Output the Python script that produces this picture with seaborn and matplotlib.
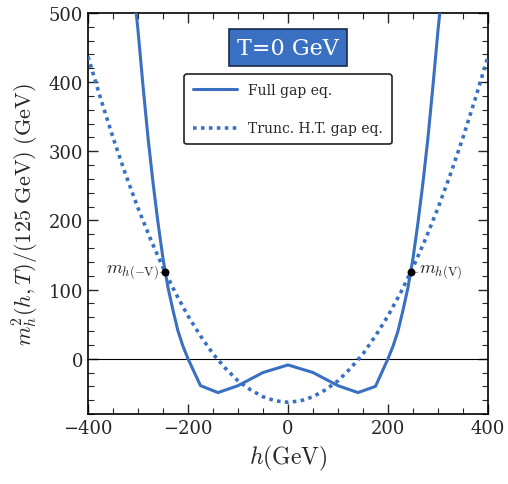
import numpy as np
import pandas as pd
import matplotlib
matplotlib.use('Agg')
import matplotlib.pyplot as plt
import seaborn as sns
from matplotlib.ticker import MultipleLocator

# Full gap equation curve
h_full = [-305, -300, -290, -280, -270, -260, -250, -240, -230, -220, -210, -200,
          -175, -140, -100, -50, 0, 50, 100, 140, 175,
          200, 210, 220, 230, 240, 250, 260, 270, 280, 290, 300, 305]
m2_full = [510, 475, 395, 320, 255, 197, 145, 103, 70, 40, 18, 0,
           -39, -49, -39, -20, -9, -20, -39, -49, -40,
           0, 18, 40, 70, 103, 145, 197, 255, 320, 395, 475, 510]

# Truncated high-T gap equation curve
h_trunc = [-400, -375, -350, -325, -300, -275, -250, -225, -200, -175, -150, -125,
           -100, -75, -50, -25, 0, 25, 50, 75, 100, 125, 150, 175, 200,
           225, 250, 275, 300, 325, 350, 375, 400]
m2_trunc = [437, 377, 320, 267, 218, 173, 132, 95, 62, 33, 7, -14,
            -32, -45, -55, -61, -63, -61, -55, -45, -32, -14, 7, 33, 62,
            95, 132, 173, 218, 267, 320, 377, 437]

# vacuum points m_h(+-V)
v_h = [-246, 246]
v_m2 = [125, 125]
v_labels = [r'$m_{h(-\mathrm{V})}$', r'$m_{h(\mathrm{V})}$']

blue = '#3a70c2'

sns.set_theme(style='ticks')
plt.rcParams['font.family'] = ['DejaVu Serif']
plt.rcParams['mathtext.fontset'] = 'cm'

fig = plt.figure(figsize=(5.08, 4.85), dpi=100)
ax = fig.add_axes([0.1732, 0.1443, 0.7874, 0.8268])

df_full = pd.DataFrame({'h': h_full, 'm2': m2_full})
df_trunc = pd.DataFrame({'h': h_trunc, 'm2': m2_trunc})

ax.axhline(0, color='black', lw=0.8, zorder=1)
sns.lineplot(data=df_full, x='h', y='m2', ax=ax, color=blue, lw=2.2,
             label='Full gap eq.', zorder=3)
sns.lineplot(data=df_trunc, x='h', y='m2', ax=ax, color=blue, lw=2.6,
             linestyle=(0, (1.0, 1.2)), label='Trunc. H.T. gap eq.', zorder=3)
ax.scatter(v_h, v_m2, color='black', s=22, zorder=5)

# labels for the vacuum points, with a short grey leader
ax.plot([-256, -248], [125, 125], color='#999999', lw=0.8)
ax.plot([250, 259], [125, 125], color='#999999', lw=0.8)
ax.text(-258, 125, v_labels[0], ha='right', va='center', fontsize=13)
ax.text(262, 125, v_labels[1], ha='left', va='center', fontsize=13)

ax.set_xlim(-400, 400)
ax.set_ylim(-80, 500)
ax.xaxis.set_major_locator(MultipleLocator(200))
ax.xaxis.set_minor_locator(MultipleLocator(50))
ax.yaxis.set_major_locator(MultipleLocator(100))
ax.yaxis.set_minor_locator(MultipleLocator(20))
ax.tick_params(which='both', direction='in', top=True, right=True, labelsize=13)
ax.tick_params(which='major', length=7, width=1)
ax.tick_params(which='minor', length=4, width=0.8)
for s in ax.spines.values():
    s.set_linewidth(1.2)
    s.set_color('black')

ax.set_xlabel(r'$h(\mathrm{GeV})$', fontsize=17, labelpad=4)
ax.set_ylabel(r'$m_h^2(h,T)/(125\ \mathrm{GeV})\ (\mathrm{GeV})$', fontsize=16, labelpad=6)

leg = ax.legend(loc='upper center', bbox_to_anchor=(0.5, 0.865), fontsize=10,
                frameon=True, fancybox=True, edgecolor='#222222', framealpha=1,
                labelspacing=1.75, handlelength=3.2, borderpad=0.65)
leg.get_frame().set_linewidth(1.2)

ax.text(0, 450, 'T=0 GeV', ha='center', va='center', fontsize=16, color='white',
        bbox=dict(boxstyle='square,pad=0.35', facecolor=blue, edgecolor='#1a2a4a', lw=1.2))

fig.savefig('out.png', dpi=100)
